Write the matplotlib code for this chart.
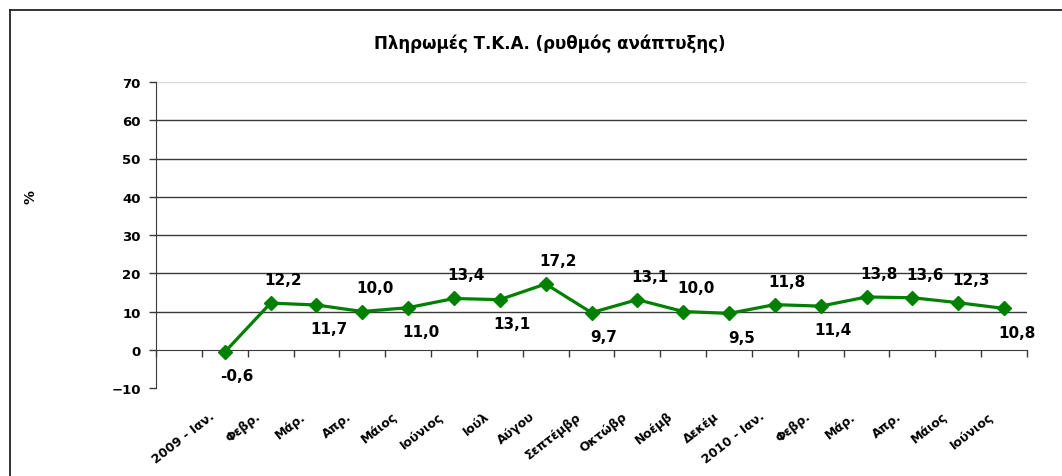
import numpy as np
import matplotlib
matplotlib.use("Agg")
import matplotlib.pyplot as plt
from matplotlib.lines import Line2D

# --- dados ---
TITULO = "Πληρωμές Τ.Κ.Α. (ρυθμός ανάπτυξης)"
# primeira categoria vazia, como na folha original
meses = ["", "2009 - Ιαν.", "Φεβρ.", "Μάρ.", "Απρ.", "Μάιος", "Ιούνιος",
         "Ιούλ", "Αύγου", "Σεπτέμβρ", "Οκτώβρ", "Νοέμβ", "Δεκέμ",
         "2010 - Ιαν.", "Φεβρ.", "Μάρ.", "Απρ.", "Μάιος", "Ιούνιος"]
crescimento = [np.nan, -0.6, 12.2, 11.7, 10.0, 11.0, 13.4, 13.1, 17.2, 9.7,
               13.1, 10.0, 9.5, 11.8, 11.4, 13.8, 13.6, 12.3, 10.8]
# onde fica o rótulo de cada ponto (1 = acima, -1 = abaixo)
lado_rotulo = [0, -1, 1, -1, 1, -1, 1, -1, 1, -1, 1, 1, -1, 1, -1, 1, 1, 1, -1]

VERDE = "#008000"
ESCURO = "#3a3a3a"

fig = plt.figure(figsize=(10.62, 4.77), dpi=100)
ax = fig.add_axes([156 / 1062, 88 / 477, 871 / 1062, 306 / 477])

x = np.arange(len(meses))
ax.plot(x, crescimento, color=VERDE, linewidth=2.3, marker="D",
        markersize=7.5, zorder=3)

# rótulos dos valores
for xi, v, lado in zip(x, crescimento, lado_rotulo):
    if np.isnan(v):
        continue
    ax.annotate(f"{v:.1f}".replace(".", ","), (xi, v),
                xytext=(9, 17 * lado), textcoords="offset points",
                ha="center", va="center", fontsize=11, color="black",
                fontweight="bold")

ax.set_xlim(-0.5, len(meses) - 0.5)
ax.set_ylim(-10, 70)
ax.set_yticks(np.arange(-10, 71, 10))
ax.tick_params(axis="y", direction="out", length=5, width=1, color=ESCURO,
               labelsize=9.5, pad=6)
for lb in ax.get_yticklabels():
    lb.set_fontweight("bold")

# linhas de grade horizontais
for yv in range(10, 71, 10):
    ax.axhline(yv, color="#d9d9d9" if yv == 70 else ESCURO, linewidth=1,
               zorder=1)

# eixo das categorias passa no zero
ax.spines["top"].set_visible(False)
ax.spines["right"].set_visible(False)
ax.spines["bottom"].set_position(("data", 0))
ax.spines["bottom"].set_color(ESCURO)
ax.spines["left"].set_color(ESCURO)
ax.set_xticks(np.arange(-0.5, len(meses), 1.0))
ax.set_xticklabels([])
ax.tick_params(axis="x", direction="out", length=5, width=1, color=ESCURO)

# nomes dos meses em baixo, inclinados
for xi, nome in zip(x, meses):
    if not nome:
        continue
    ax.text(xi - 0.35, -15.5, nome, rotation=38, rotation_mode="anchor",
            ha="right", va="top", fontsize=9, fontweight="bold",
            clip_on=False)

ax.set_ylabel("%", fontsize=10, fontweight="bold")
ax.yaxis.set_label_coords(-0.136, 0.627)

fig.text(550 / 1062, 1 - 44 / 477, TITULO, ha="center", va="center",
         fontsize=12, fontweight="bold")

# moldura exterior do gráfico
fig.add_artist(Line2D([10 / 1062, 10 / 1062], [0, 1 - 11 / 477],
                      transform=fig.transFigure, color="#222222", linewidth=1.3))
fig.add_artist(Line2D([10 / 1062, 1], [1 - 11 / 477, 1 - 11 / 477],
                      transform=fig.transFigure, color="#222222", linewidth=1.3))

fig.savefig("out.png", dpi=100)
